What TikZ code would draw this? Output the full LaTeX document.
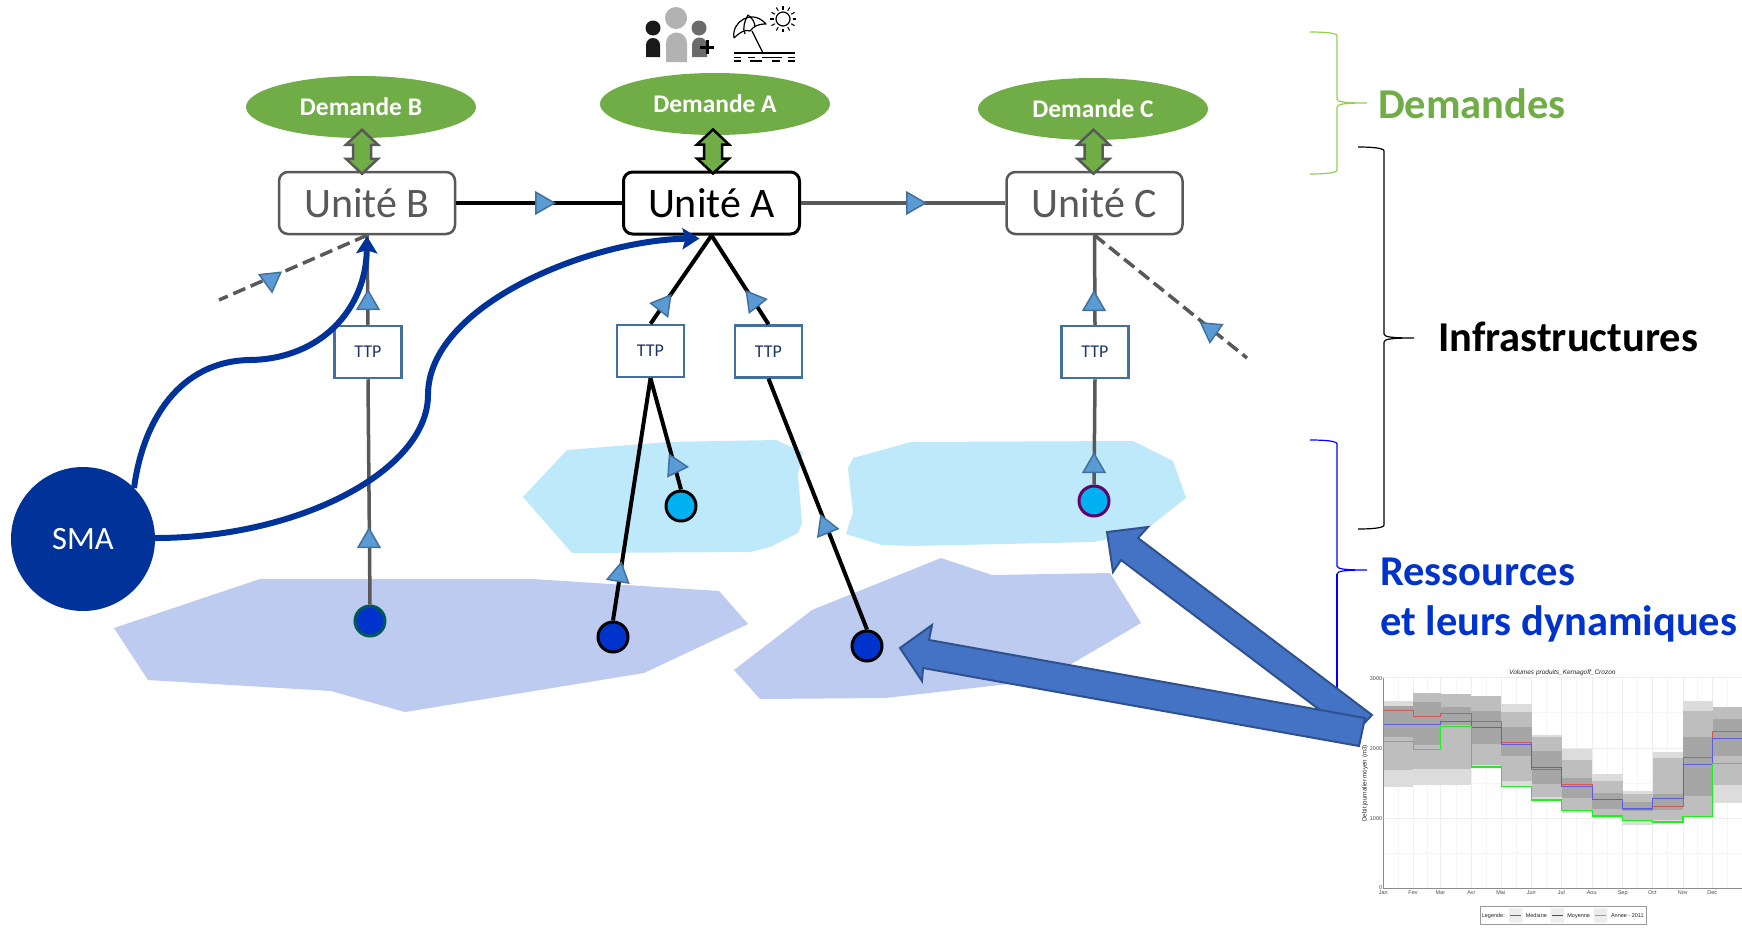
\documentclass[tikz,border=0pt]{standalone}
\usepackage{fontspec}
\setmainfont{Carlito}
\newfontfamily\chartfont{Liberation Sans}
\usetikzlibrary{shapes.geometric,arrows.meta}
\definecolor{dgreen}{HTML}{70AD47}
\definecolor{lgreen}{HTML}{92D050}
\definecolor{dgray}{HTML}{595959}
\definecolor{smablue}{HTML}{003399}
\definecolor{resblue}{HTML}{0033CC}
\definecolor{ttpline}{HTML}{41719C}
\definecolor{ttptext}{HTML}{1F3864}
\definecolor{trifill}{HTML}{5B9BD5}
\definecolor{lakeblue}{HTML}{BEE9FA}
\definecolor{groundblue}{HTML}{BDCBF0}
\definecolor{bigarrow}{HTML}{4472C4}
\definecolor{bigedge}{HTML}{2F528F}
\definecolor{cyanfill}{HTML}{00B0F0}
\definecolor{bandA}{HTML}{DCDCDC}
\definecolor{bandB}{HTML}{BEBEBE}
\definecolor{bandC}{HTML}{A6A6A6}
\tikzset{
  demand/.style={ellipse,fill=dgreen,text=white,inner sep=0pt,minimum width=230pt,minimum height=62pt,font=\bfseries\fontsize{25.4}{30}\selectfont},
  unit/.style={rectangle,rounded corners=9pt,draw=dgray,line width=2.5pt,fill=white,text=dgray,minimum width=176pt,minimum height=62pt,inner sep=0pt,font=\fontsize{42}{48}\selectfont},
  unitmain/.style={unit,draw=black,text=black,line width=3pt},
  ttp/.style={rectangle,draw=ttpline,line width=2.5pt,fill=white,text=ttptext,minimum width=67pt,minimum height=52pt,inner sep=0pt,font=\fontsize{18}{22}\selectfont},
  tri/.style={regular polygon,regular polygon sides=3,draw=ttpline,line width=1.5pt,fill=trifill,inner sep=0pt,minimum size=25pt},
  source/.style={circle,draw=black,line width=3pt,fill=resblue,inner sep=0pt,minimum size=30pt},
  lineA/.style={line width=4pt,black},
  lineG/.style={line width=3.5pt,dgray},
  lineD/.style={line width=3.5pt,dgray,dash pattern=on 13pt off 6pt},
  curveS/.style={line width=6pt,smablue,-{Stealth[length=17pt,width=21pt,inset=3pt]}},
  bigarr/.style={fill=bigarrow,draw=bigedge,line width=2pt,line join=miter},
  brace/.style={line width=1.2pt},
  head/.style={anchor=base west,inner sep=0pt,font=\bfseries\fontsize{42.5}{48}\selectfont},
  dbl/.style={fill=dgreen,line width=2.5pt,line join=miter},
  chartlab/.style={inner sep=0pt,text=black!70,font=\chartfont\fontsize{5.5}{6.5}\selectfont},
}
\newcommand{\dblarr}[3]{\draw[dbl,draw=#3,shift={(#1.north)}] (#2,-41) -- (#2+16,-26) -- (#2+9,-26) -- (#2+9,-12) -- (#2+16,-12) -- (#2,3) -- (#2-16,-12) -- (#2-9,-12) -- (#2-9,-26) -- (#2-16,-26) -- cycle;}
\newcommand{\bracepath}[6]{\draw[brace,#6] (#1,#3) .. controls (#2-12,#3) and (#2,#3+1) .. (#2,#3+4) -- (#2,#4-4) .. controls (#2,#4-1) and (#2+8,#4) .. (#5,#4) .. controls (#2+8,#4) and (#2,#4+1) .. (#2,#4+4);}
\begin{document}
\begin{tikzpicture}[x=1pt,y=-1pt]
\useasboundingbox (0,0) rectangle (1742,929);
\fill[white] (0,0) rectangle (1742,929);
% blobs
\fill[lakeblue] (567,450) -- (667,442) -- (776,440) -- (803,452) -- (798,475) -- (802,523) -- (798,533) -- (770,547) -- (750,552) -- (572,553) -- (523,497) -- cycle;
\fill[lakeblue] (848,468) -- (853,458) -- (911,442) -- (1133,441) -- (1173,461) -- (1186,498) -- (1144,531) -- (1094,542) -- (911,546) -- (882,545) -- (846,534) -- (853,512) -- cycle;
\fill[groundblue] (114,628) -- (260,579) -- (533,579) -- (719,591) -- (748,624) -- (644,673) -- (405,712) -- (331,691) -- (148,680) -- cycle;
\fill[groundblue] (734,670) -- (812,610) -- (941,558) -- (992,575) -- (1110,573) -- (1141,623) -- (1044,680) -- (885,698) -- (760,699) -- cycle;
% nodes
\node[demand] (demB) at (361,107) {Demande B};
\node[demand] (demA) at (715,104) {Demande A};
\node[demand] (demC) at (1093,109) {Demande C};
\node[unit] (ub) at (367,203) {Unité B};
\node[unitmain] (ua) at (711.5,203) {Unité A};
\node[unit] (uc) at (1094.5,203) {Unité C};
\node[ttp] (ttpB) at (368,352) {TTP};
\node[ttp] (ttpA) at (650.5,351) {TTP};
\node[ttp] (ttpD) at (768.5,351.5) {TTP};
\node[ttp] (ttpC) at (1095,352) {TTP};
\node[source,draw=teal!70!black] (srcB) at (370,621) {};
\node[source] (srcA) at (613,637) {};
\node[source,fill=cyanfill] (srcL) at (681,506) {};
\node[source] (srcD) at (867,646) {};
\node[source,fill=cyanfill,draw=violet!80!black] (srcC) at (1094,501) {};
\node[circle,fill=smablue,text=white,minimum size=144pt,inner sep=0pt,font=\fontsize{32.5}{36}\selectfont] (sma) at (83,539) {SMA};
\coordinate (dashB) at (219,300);
\coordinate (dashC) at (1247,358);
% connectors
\draw[lineA] (ub.east) -- (ua.west);
\draw[lineG] (ua.east) -- (uc.west);
\draw[lineD] (ub.south) -- (dashB);
\draw[lineD] (uc.south) -- (dashC);
\draw[lineG] (ub.south) -- (ttpB.north);
\draw[lineG] (ttpB.south) -- (srcB.north);
\draw[lineA] (ua.south) -- (ttpA.north);
\draw[lineA] (ua.south) -- (ttpD.north);
\draw[lineA] (ttpA.south) -- (srcA.north);
\draw[lineA] (ttpA.south) -- (srcL.north);
\draw[lineA] (ttpD.south) -- (srcD.north);
\draw[lineG] (uc.south) -- (ttpC.north);
\draw[lineG] (ttpC.south) -- (srcC.north);
% triangles
\node[tri,rotate=-90] (t1) at (542,203) {};
\node[tri,rotate=-90] (t2) at (913,203) {};
\node[tri] (t3) at (368,303) {};
\node[tri] (t4) at (369,541) {};
\node[tri,rotate=186] (t5) at (270.7,279.7) {};
\node[tri,rotate=82] (t6) at (663,305) {};
\node[tri,rotate=-82] (t7) at (754,301) {};
\node[tri,rotate=-10] (t8) at (619,575) {};
\node[tri,rotate=-94] (t9) at (675,466) {};
\node[tri,rotate=-98] (t10) at (825.6,527) {};
\node[tri] (t11) at (1094,304) {};
\node[tri] (t12) at (1094,466) {};
\node[tri,rotate=-65] (t13) at (1211,330) {};
% double arrows
\dblarr{ub}{-5}{dgray}
\dblarr{ua}{1.5}{black}
\dblarr{uc}{-1}{dgray}
% curves
\draw[curveS] (sma.45) .. controls (143,420) and (180,361) .. (250,360) .. controls (320,359) and (366,310) .. ([yshift=-1pt]ub.south);
\draw[curveS] (sma.east) ++(0,-1) .. controls (300,538) and (428,470) .. (428,395) .. controls (428,305) and (590,240) .. ([xshift=-12pt,yshift=-3pt]ua.south);
% icons
\begin{scope}
\fill[black!90] (653,28) circle (7.5);
\fill[black!90] (646,57) -- (646,45) arc[start angle=180,end angle=360,radius=7] -- (660,57) -- cycle;
\fill[black!30] (676,18) circle (11);
\fill[black!30] (666,62) -- (666,43) arc[start angle=180,end angle=360,radius=10.5] -- (687,62) -- cycle;
\fill[black!58] (699,28) circle (7.5);
\fill[black!58] (692,57) -- (692,45) arc[start angle=180,end angle=360,radius=7.5] -- (707,57) -- cycle;
\draw[black,line width=3pt] (700,47) -- (714,47) (707,40) -- (707,54);
\draw[black,line width=1.2pt,line join=round] (734,38) .. controls (731,22) and (752,8) .. (766,24) .. controls (758,24) and (754,26) .. (750,31) .. controls (746,29) and (740,32) .. (734,38);
\draw[black,line width=1.2pt] (745,34) .. controls (742,28) and (745,20) .. (748,15);
\draw[black,line width=1.2pt] (755,27) .. controls (755,22) and (752,18) .. (748,15);
\draw[black,line width=1.2pt] (752,31) -- (763,53);
\draw[black,line width=1.2pt] (734,53) -- (795,53);
\draw[black,line width=1.2pt] (734,57.5) -- (741,57.5) (748,57.5) -- (755,57.5) (762,57.5) -- (782,57.5) (788,57.5) -- (795,57.5);
\draw[black,line width=1.2pt] (734,61) -- (741,61) (750,61) -- (762,61) (772,61) -- (780,61) (788,61) -- (795,61);
\draw[black,line width=1.2pt] (783,19) circle (7);
\foreach \a in {0,30,...,330} \draw[black,line width=1.1pt] (783,19) ++(\a:9.5) -- ++(\a:3.8);
\end{scope}
% braces
\bracepath{1310}{1337}{32}{103}{1367}{lgreen}
\draw[brace,lgreen] (1337,107) -- (1337,170) .. controls (1337,173) and (1325,174) .. (1310,174);
\bracepath{1358}{1384}{147}{338}{1414}{black}
\draw[brace,black] (1384,342) -- (1384,525) .. controls (1384,528) and (1372,529) .. (1358,529);
\bracepath{1310}{1337}{440}{570}{1367}{blue}
\draw[brace,blue] (1337,574) -- (1337,700);
% headings
\node[head,text=dgreen] (hDem) at (1378,118) {Demandes};
\node[head,text=black] (hInf) at (1438,351) {Infrastructures};
\node[head,text=resblue] (hRes) at (1380,585) {Ressources};
\node[head,text=resblue] (hDyn) at (1380,635) {et leurs dynamiques};
% chart
\begin{scope}[shift={(1340,650)},x=0.33333pt,y=-0.33333pt]
\foreach \g in {175,262,348,439,530,620,710,803,893,983,1073,1162} \draw[black!4,line width=.6pt] (\g,83) -- (\g,715);
\foreach \g in {130,220,302,394,484,575,665,757,848,938,1029,1118} \draw[black!7,line width=.8pt] (\g,83) -- (\g,715);
\foreach \g in {83,295,505} \draw[black!7,line width=.8pt] (130,\g) -- (1206,\g);
\foreach \g in {188,400,610} \draw[black!4,line width=.6pt] (130,\g) -- (1206,\g);
\foreach \xa/\xb/\lt/\mt/\dt/\db/\mb/\lb in {
 130/220/153/168/168/262/360/410,
 220/302/130/130/155/285/357/405,
 302/394/132/132/172/225/357/405,
 394/484/137/137/183/282/345/350,
 484/575/162/187/232/318/393/408,
 575/665/255/260/303/402/440/450,
 665/757/298/330/385/443/482/490,
 757/848/372/393/428/477/497/503,
 848/938/423/433/455/483/512/525,
 938/1029/305/323/432/480/510/516,
 1029/1118/153/183/260/438/497/498,
 1118/1206/172/172/206/317/405/458}{
  \fill[bandA] (\xa,\lt) rectangle (\xb,\lb);
  \fill[bandB] (\xa,\mt) rectangle (\xb,\mb);
  \fill[bandC] (\xa,\dt) rectangle (\xb,\db);
}
\draw[line width=1pt,draw={rgb,255:red,214;green,84;blue,84}] (130,181) -| (220,198) -| (302,190) -| (394,213) -| (484,276) -| (575,357) -| (665,404) -| (757,448) -| (848,477) -| (938,469) -| (1029,322) -| (1118,244) -- (1206,244);
\draw[line width=1pt,draw={rgb,255:red,92;green,92;blue,220}] (130,223) -| (302,214) -| (394,232) -| (484,283) -| (575,352) -| (665,409) -| (757,448) -| (848,475) -| (938,445) -| (1029,343) -| (1118,266) -- (1206,266);
\draw[line width=1.4pt,draw={rgb,255:red,30;green,240;blue,30}] (130,275) -| (220,299) -| (302,229) -| (394,351) -| (484,409) -| (575,450) -| (665,482) -| (757,498) -| (848,511) -| (938,516) -| (1029,499) -| (1118,341) -- (1206,341);
\draw[black!45,line width=.9pt] (130,83) -- (130,715) -- (1206,715);
\node[chartlab] (y3) at (108,85) {3000};
\node[chartlab] (y2) at (108,295) {2000};
\node[chartlab] (y1) at (108,505) {1000};
\node[chartlab] (y0) at (122,714) {0};
\foreach \n/\xx/\lab in {m1/130/Jan,m2/219/Fev,m3/301/Mar,m4/394/Avr,m5/482/Mai,m6/574/Jun,m7/664/Jul,m8/755/Aou,m9/848/Sep,m10/937/Oct,m11/1028/Nov,m12/1117/Dec}
  \node[chartlab] (\n) at (\xx,729) {\lab};
\node[inner sep=0pt,text=black!85,font=\chartfont\itshape\fontsize{6.5}{8}\selectfont] (ctitle) at (667,68) {Volumes produits\_Kernagoff\_Crozon};
\node[inner sep=0pt,rotate=90,text=black!85,font=\chartfont\fontsize{6.2}{8}\selectfont] (cylab) at (75,400) {Debit journalier moyen (m3)};
\draw[black!40,line width=.8pt,fill=white] (420,770) rectangle (920,823);
\fill[black!7] (507,775) rectangle (547,818) (632,775) rectangle (672,818) (762,775) rectangle (802,818);
\draw[line width=.8pt,draw={rgb,255:red,214;green,60;blue,60}] (511,797) -- (544,797);
\draw[line width=.8pt,draw={rgb,255:red,60;green,60;blue,220}] (636,797) -- (669,797);
\draw[line width=.8pt,draw={rgb,255:red,30;green,240;blue,30}] (766,797) -- (799,797);
\node[chartlab,text=black!85] (lg0) at (460,798) {Legende:};
\node[chartlab,text=black!85] (lg1) at (589,798) {Mediane};
\node[chartlab,text=black!85] (lg2) at (716,798) {Moyenne};
\node[chartlab,text=black!85] (lg3) at (862,798) {Annee - 2011};
\end{scope}
% big arrows
\draw[bigarr] (1107,532) -- (1148,527) -- (1138,538) -- (1372,715) -- (1353,735) -- (1121,560) -- (1113,572) -- cycle;
\draw[bigarr] (900,648) -- (932,625) -- (929,640) -- (1365,718) -- (1359,746) -- (923,668) -- (922,681) -- cycle;
\end{tikzpicture}
\end{document}
